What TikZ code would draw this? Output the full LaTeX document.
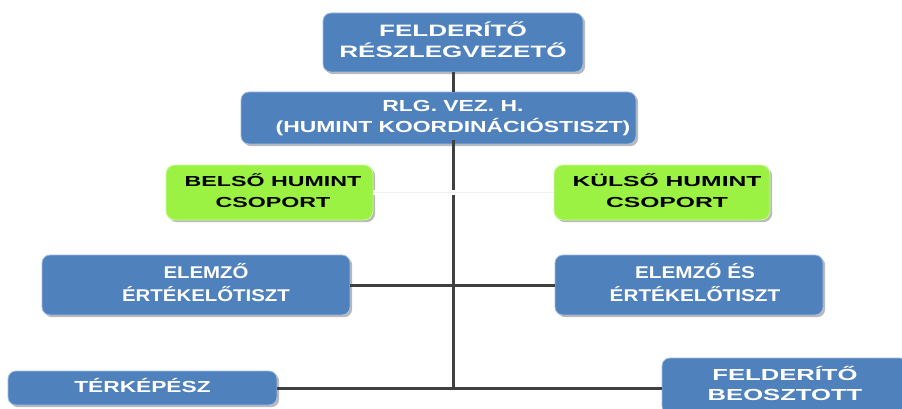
\documentclass[tikz,border=0pt]{standalone}
\usepackage{fontspec}
\setmainfont{Liberation Sans}
\usepackage{graphicx}
\usetikzlibrary{shadows}
\definecolor{boxblue}{RGB}{79,129,189}
\definecolor{boxedge}{RGB}{160,188,222}
\definecolor{boxgreen}{RGB}{155,242,66}
\definecolor{greenedge}{RGB}{200,250,160}
\definecolor{linkgray}{RGB}{64,64,64}
\newcommand{\wt}[2]{\scalebox{#1}[1]{\begin{tabular}{@{}c@{}}#2\end{tabular}}}
\tikzset{
  bluebox/.style={rectangle, rounded corners=8pt, fill=boxblue, draw=boxedge, line width=0.8pt,
    text=white, font=\bfseries\fontsize{16}{20}\selectfont, inner sep=0pt,
    drop shadow={shadow xshift=2.2pt, shadow yshift=-2.2pt, fill=black!45, opacity=0.6}},
  greenbox/.style={rectangle, rounded corners=9pt, fill=boxgreen, draw=greenedge, line width=0.8pt,
    text=black, font=\bfseries\fontsize{14.5}{21}\selectfont, inner sep=0pt,
    drop shadow={shadow xshift=2.2pt, shadow yshift=-2.2pt, fill=black!45, opacity=0.6}},
  link/.style={draw=linkgray, line width=3pt},
}
\begin{document}
\begin{tikzpicture}[x=1pt, y=-1pt]
\useasboundingbox (0,0) rectangle (902,409);

\node[bluebox, minimum width=260pt, minimum height=59pt, font=\bfseries\fontsize{16.5}{20}\selectfont] (top) at (453,42.5)
  {\wt{1.58}{FELDERÍTŐ\\RÉSZLEGVEZETŐ}};
\node[bluebox, minimum width=395pt, minimum height=52pt] (rlg) at (438.5,118)
  {\hspace*{29pt}\wt{1.43}{RLG. VEZ. H.\\(HUMINT KOORDINÁCIÓSTISZT)}};
\node[greenbox, minimum width=207pt, minimum height=55pt] (belso) at (269.5,192.5)
  {\hspace*{7pt}\wt{1.6}{BELSŐ HUMINT\\CSOPORT}};
\node[greenbox, minimum width=216pt, minimum height=55pt] (kulso) at (662,192.5)
  {\hspace*{10pt}\wt{1.7}{KÜLSŐ HUMINT\\CSOPORT}};
\node[bluebox, minimum width=308pt, minimum height=60pt, font=\bfseries\fontsize{17}{23}\selectfont] (elemL) at (196,285)
  {\hspace*{20pt}\wt{1.2}{ELEMZŐ\\ÉRTÉKELŐTISZT}};
\node[bluebox, minimum width=268pt, minimum height=60pt, font=\bfseries\fontsize{17}{23}\selectfont] (elemR) at (689,285)
  {\hspace*{12pt}\wt{1.22}{ELEMZŐ ÉS\\ÉRTÉKELŐTISZT}};
\node[bluebox, minimum width=269pt, minimum height=34pt] (terk) at (142.5,388)
  {\wt{1.42}{TÉRKÉPÉSZ}};
\node[bluebox, minimum width=246pt, minimum height=56pt] (beo) at (785,386)
  {\wt{1.6}{FELDERÍTŐ\\BEOSZTOTT}};

\coordinate (trunktop) at (top.south |- rlg.south);
\coordinate (trunkend) at (top.south |- terk.east);

\draw[link] (top.south) -- (top.south |- rlg.north);
\draw[link] ([yshift=4pt]trunktop) -- (trunkend);
\draw[link] (elemL.east) -- (elemR.west);
\draw[link] (terk.east) -- (trunkend) -- (beo.west |- terk.east);
\draw[white, line width=5pt] (belso.east) -- (kulso.west);
\draw[black!6, line width=0.8pt] (belso.east) -- (kulso.west);
\end{tikzpicture}
\end{document}
